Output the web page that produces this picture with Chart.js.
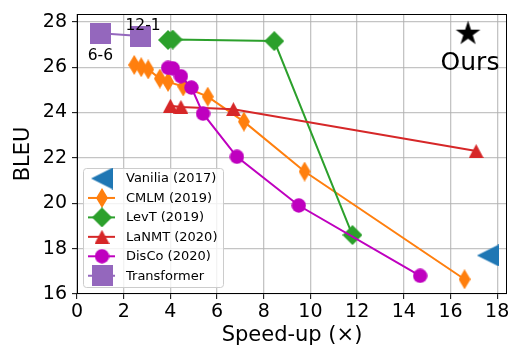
<!DOCTYPE html>
<html><head><meta charset="utf-8">
<script src="https://cdn.jsdelivr.net/npm/chart.js@4"></script>
<style>html,body{margin:0;padding:0;background:#fff}#wrap{width:521px;height:349px;position:relative}</style>
</head><body><div id="wrap"><canvas id="c"></canvas></div>
<script>
// ---- data ----
const vaniliaX = [17.6];
const vaniliaY = [17.7];
const cmlmX = [2.45, 2.75, 3.05, 3.55, 3.9, 4.55, 5.6, 7.15, 9.75, 16.6];
const cmlmY = [26.1, 26.0, 25.9, 25.5, 25.35, 25.15, 24.7, 23.6, 21.4, 16.65];
const levtX = [3.9, 4.1, 8.45, 11.8];
const levtY = [27.2, 27.22, 27.15, 18.6];
const lanmtX = [4.0, 4.45, 6.7, 17.1];
const lanmtY = [24.3, 24.25, 24.15, 22.3];
const discoX = [3.9, 4.1, 4.45, 4.9, 5.4, 6.85, 9.5, 14.7];
const discoY = [25.97, 25.95, 25.6, 25.1, 23.95, 22.05, 19.9, 16.8];
const transX = [1.0, 2.7];
const transY = [27.5, 27.37];
const transLabels = ['6-6', '12-1'];
const oursX = [16.75];
const oursY = [27.5];
const seriesNames = ['Vanilia (2017)', 'CMLM (2019)', 'LevT (2019)', 'LaNMT (2020)', 'DisCo (2020)', 'Transformer'];
const xTicks = [0, 2, 4, 6, 8, 10, 12, 14, 16, 18];
const yTicks = [16, 18, 20, 22, 24, 26, 28];

const FONT = "'DejaVu Sans'";

// ---- marker images ----
function mk(w, h, draw) {
  const c = document.createElement('canvas');
  c.width = w; c.height = h;
  const g = c.getContext('2d');
  draw(g, w, h);
  return c;
}
function poly(g, pts, color) {
  g.beginPath();
  g.moveTo(pts[0][0], pts[0][1]);
  for (let i = 1; i < pts.length; i++) g.lineTo(pts[i][0], pts[i][1]);
  g.closePath();
  g.fillStyle = color; g.fill();
}
const C = {blue:'#1f77b4', orange:'#ff7f0e', green:'#2ca02c', red:'#d62728', mag:'#bf00bf', purple:'#9467bd'};
const mLeftTri = mk(22, 22, (g,w,h)=>poly(g, [[0,h/2],[w,0],[w,h]], C.blue));
const mThinD = mk(12, 20, (g,w,h)=>poly(g, [[w/2,0],[w,h/2],[w/2,h],[0,h/2]], C.orange));
const mD = mk(20, 20, (g,w,h)=>poly(g, [[w/2,0],[w,h/2],[w/2,h],[0,h/2]], C.green));
const mTri = mk(15, 14, (g,w,h)=>poly(g, [[w/2,0],[w,h],[0,h]], C.red));
const mCirc = mk(15, 15, (g,w,h)=>{g.beginPath();g.arc(w/2,h/2,7.2,0,Math.PI*2);g.fillStyle=C.mag;g.fill();});
const mSq = mk(21, 21, (g,w,h)=>{g.fillStyle=C.purple;g.fillRect(0,0,w,h);});
const mStar = mk(27, 27, (g,w,h)=>{
  const R = 13, r = R*0.382, cx = w/2, cy = h/2 + 0.5; const pts = [];
  for (let i = 0; i < 10; i++) {
    const a = -Math.PI/2 + i*Math.PI/5; const rr = i%2 ? r : R;
    pts.push([cx + rr*Math.cos(a), cy + rr*Math.sin(a)]);
  }
  poly(g, pts, '#000');
});

function pts(xs, ys) { return xs.map((x, i) => ({x, y: ys[i]})); }

const series = [
  {name: seriesNames[0], x: vaniliaX, y: vaniliaY, color: C.blue, marker: mLeftTri},
  {name: seriesNames[1], x: cmlmX, y: cmlmY, color: C.orange, marker: mThinD},
  {name: seriesNames[2], x: levtX, y: levtY, color: C.green, marker: mD},
  {name: seriesNames[3], x: lanmtX, y: lanmtY, color: C.red, marker: mTri},
  {name: seriesNames[4], x: discoX, y: discoY, color: C.mag, marker: mCirc},
  {name: seriesNames[5], x: transX, y: transY, color: C.purple, marker: mSq},
];

const datasets = series.map((s, i) => ({
  label: s.name,
  data: pts(s.x, s.y),
  showLine: true,
  borderColor: s.color,
  backgroundColor: s.color,
  borderWidth: 2,
  pointStyle: s.marker,
  pointRadius: 10,
  pointHoverRadius: 10,
  order: 20 - i,
  clip: false
}));
datasets.push({label: 'Ours', data: pts(oursX, oursY), showLine: false, pointStyle: mStar, pointRadius: 13, order: 1, clip: false});

const annot = {
  id: 'annot',
  afterDatasetsDraw(chart) {
    const {ctx, chartArea: a, scales: {x, y}} = chart;
    ctx.save();
    // frame
    ctx.strokeStyle = '#000'; ctx.lineWidth = 1;
    ctx.strokeRect(Math.round(a.left) + 0.5, Math.round(a.top) + 0.5, Math.round(a.right - a.left) - 1, Math.round(a.bottom - a.top) - 1);
    ctx.fillStyle = '#000';
    ctx.textAlign = 'center'; ctx.textBaseline = 'middle';
    // transformer labels
    ctx.font = '15.5px ' + FONT;
    ctx.fillText(transLabels[0], x.getPixelForValue(transX[0]), y.getPixelForValue(transY[0]) + 22.5);
    ctx.fillText(transLabels[1], x.getPixelForValue(transX[1]) + 3, y.getPixelForValue(transY[1]) - 10);
    // ours
    ctx.font = '25px ' + FONT;
    ctx.fillText('Ours', x.getPixelForValue(oursX[0]) + 2, y.getPixelForValue(oursY[0]) + 30);
    // legend
    const lx = 83, ly = 168, lw = 140, lh = 119;
    ctx.beginPath();
    ctx.roundRect(lx + 0.5, ly + 0.5, lw, lh, 3);
    ctx.fillStyle = 'rgba(255,255,255,0.8)'; ctx.fill();
    ctx.strokeStyle = '#cccccc'; ctx.lineWidth = 1; ctx.stroke();
    ctx.font = '13px ' + FONT; ctx.textAlign = 'left';
    series.forEach((s, i) => {
      const ry = 178.5 + i * 19.45;
      ctx.strokeStyle = s.color; ctx.lineWidth = 2;
      if (i > 0) { ctx.beginPath(); ctx.moveTo(88, ry); ctx.lineTo(115, ry); ctx.stroke(); }
      ctx.drawImage(s.marker, 102 - s.marker.width / 2, ry - s.marker.height / 2);
      ctx.fillStyle = '#000';
      ctx.fillText(s.name, 126, ry + 0.5);
    });
    // axis titles
    ctx.font = '21px ' + FONT; ctx.textAlign = 'center';
    ctx.fillText('Speed-up (×)', (a.left + a.right) / 2, 336);
    ctx.save();
    ctx.translate(24, (a.top + a.bottom) / 2);
    ctx.rotate(-Math.PI / 2);
    ctx.fillText('BLEU', 0, 0);
    ctx.restore();
    ctx.restore();
  }
};

const gridCfg = {color: 'rgba(176,176,176,0.75)', lineWidth: 1.3, tickColor: '#000', tickLength: 5, tickWidth: 1};
function zeroPad(s) { s.paddingTop = 0; s.paddingBottom = 0; s.paddingLeft = 0; s.paddingRight = 0; }

new Chart(document.getElementById('c'), {
  type: 'scatter',
  data: {datasets},
  options: {
    responsive: true, maintainAspectRatio: false, animation: false,
    layout: {padding: {top: 8, right: 6, left: 0, bottom: 0}},
    plugins: {legend: {display: false}, tooltip: {enabled: false}},
    scales: {
      x: {
        type: 'linear', min: 0, max: 18.42,
        afterBuildTicks: s => { s.ticks = xTicks.map(v => ({value: v})); },
        afterFit: s => { s.height = 55; zeroPad(s); },
        ticks: {font: {family: FONT, size: 19}, color: '#000', padding: 2, maxRotation: 0},
        grid: gridCfg, border: {display: false}
      },
      y: {
        type: 'linear', min: 16, max: 28.345,
        afterBuildTicks: s => { s.ticks = yTicks.map(v => ({value: v})); },
        afterFit: s => { s.width = 77; zeroPad(s); },
        ticks: {font: {family: FONT, size: 19}, color: '#000', padding: 5},
        grid: gridCfg, border: {display: false}
      }
    }
  },
  plugins: [annot]
});
</script></body></html>
